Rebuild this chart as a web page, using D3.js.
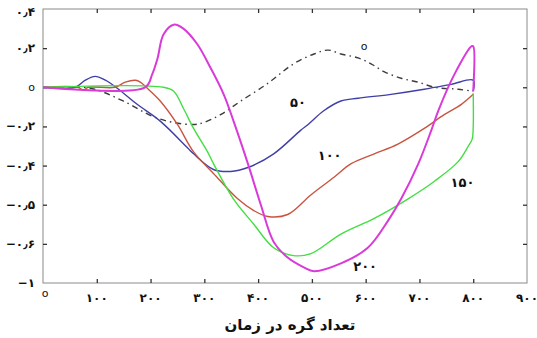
<!DOCTYPE html>
<html>
<head>
<meta charset="utf-8">
<script src="https://cdn.jsdelivr.net/npm/d3@7"></script>
<style>
  body { margin: 0; background: #fff; }
  svg text { font-family: "DejaVu Sans", sans-serif; }
</style>
</head>
<body>
<div id="chart"></div>
<script>
// values (x = time nodes, y = response)
const xTicks = [0, 100, 200, 300, 400, 500, 600, 700, 800, 900];
const xTickLabels = ['o', '۱۰۰', '۲۰۰', '۳۰۰', '۴۰۰', '۵۰۰', '۶۰۰', '۷۰۰', '۸۰۰', '۹۰۰'];
const yTicks = [0.4, 0.2, 0, -0.2, -0.4, -0.6, -0.8, -1];
const yTickLabels = ['۰٫۴', '۰٫۲', 'o', '−۰٫۲', '−۰٫۴', '−۰٫۵', '−۰٫۶', '−۱'];

const s0x = [0, 88, 149, 205, 243, 280, 299, 330, 368, 418, 466, 504, 530, 554, 586, 610, 634, 666, 698, 728, 772, 800];
const s0y = [0, -0.005, -0.07, -0.15, -0.18, -0.19, -0.18, -0.14, -0.07, 0.02, 0.12, 0.17, 0.19, 0.17, 0.15, 0.12, 0.08, 0.046, 0.026, 0, -0.01, -0.02];

const s50x = [0, 60, 78, 97, 116, 138, 175, 218, 269, 280, 317, 349, 381, 429, 479, 493, 522, 554, 586, 647, 709, 759, 800, 800];
const s50y = [0, 0, 0.035, 0.056, 0.036, -0.005, -0.087, -0.173, -0.31, -0.34, -0.42, -0.43, -0.41, -0.34, -0.22, -0.19, -0.12, -0.07, -0.056, -0.036, -0.01, 0.015, 0.036, -0.02];

const s100x = [0, 65, 75, 84, 134, 153, 172, 181, 194, 218, 250, 280, 317, 362, 392, 418, 455, 498, 541, 573, 616, 660, 709, 746, 778, 800];
const s100y = [0, 0, -0.015, 0, 0, 0.026, 0.036, 0.026, -0.005, -0.07, -0.19, -0.33, -0.44, -0.57, -0.63, -0.66, -0.65, -0.55, -0.46, -0.39, -0.34, -0.29, -0.21, -0.14, -0.087, -0.036];

const s150x = [0, 224, 243, 261, 280, 306, 317, 354, 392, 429, 466, 498, 554, 616, 679, 728, 772, 791, 798, 800, 800];
const s150y = [0, 0, -0.02, -0.107, -0.21, -0.33, -0.39, -0.57, -0.70, -0.82, -0.86, -0.85, -0.75, -0.67, -0.57, -0.48, -0.38, -0.30, -0.265, -0.2, -0.03];

const s200x = [0, 190, 203, 213, 224, 243, 261, 287, 312, 336, 354, 381, 405, 429, 455, 485, 504, 554, 604, 642, 666, 698, 722, 735, 765, 797, 800, 800];
const s200y = [0, 0, 0.066, 0.148, 0.27, 0.32, 0.30, 0.22, 0.097, -0.036, -0.17, -0.39, -0.60, -0.79, -0.87, -0.92, -0.94, -0.90, -0.82, -0.68, -0.57, -0.39, -0.22, -0.12, 0.066, 0.21, 0.21, -0.02];

const seriesNames = ['o', '۵۰', '۱۰۰', '۱۵۰', '۲۰۰'];
const seriesColors = ['#3c3c3c', '#3f3fa6', '#c8553f', '#44de44', '#d93ad9'];
const seriesX = [s0x, s50x, s100x, s150x, s200x];
const seriesY = [s0y, s50y, s100y, s150y, s200y];
// where each curve's label sits, in data units
const labelX = [597, 474, 533, 780, 599];
const labelY = [0.19, -0.1, -0.37, -0.51, -0.94];

const width = 537, height = 338;
const svg = d3.select('#chart').append('svg')
  .attr('width', width)
  .attr('height', height);

const x = d3.scaleLinear().domain([0, 900]).range([43, 527]);
const y = d3.scaleLinear().domain([-1, 0.4]).range([283, 9]);

// frame
svg.append('rect')
  .attr('x', x(0)).attr('y', y(0.4))
  .attr('width', x(900) - x(0)).attr('height', y(-1) - y(0.4))
  .attr('fill', 'none').attr('stroke', '#8a8a8a').attr('stroke-width', 1);

const inner = xTicks.slice(1, -1);
const innerY = yTicks.slice(1, -1);
const tickStyle = g => {
  g.select('.domain').remove();
  g.selectAll('line').attr('stroke', '#333').attr('stroke-width', 1.3);
  g.selectAll('text').remove();
};
svg.append('g').attr('transform', `translate(0,${y(-1)})`)
  .call(d3.axisBottom(x).tickValues(inner).tickSizeInner(-4).tickSizeOuter(0)).call(tickStyle);
svg.append('g').attr('transform', `translate(0,${y(0.4)})`)
  .call(d3.axisTop(x).tickValues(inner).tickSizeInner(-4).tickSizeOuter(0)).call(tickStyle);
svg.append('g').attr('transform', `translate(${x(0)},0)`)
  .call(d3.axisLeft(y).tickValues(innerY).tickSizeInner(-4).tickSizeOuter(0)).call(tickStyle);
svg.append('g').attr('transform', `translate(${x(900)},0)`)
  .call(d3.axisRight(y).tickValues(innerY).tickSizeInner(-4).tickSizeOuter(0)).call(tickStyle);

const isZero = t => t === 'o';

// tick labels
svg.append('g').selectAll('text')
  .data(xTicks)
  .join('text')
  .attr('x', d => x(d) + (d === 0 ? 2 : 0))
  .attr('y', (d, i) => i === 0 ? 297 : 302)
  .attr('text-anchor', 'middle')
  .attr('font-size', (d, i) => isZero(xTickLabels[i]) ? 11 : 12)
  .attr('font-weight', (d, i) => isZero(xTickLabels[i]) ? 'normal' : 'bold')
  .attr('fill', '#111')
  .text((d, i) => xTickLabels[i]);

svg.append('g').selectAll('text')
  .data(yTicks)
  .join('text')
  .attr('x', 35)
  .attr('y', (d, i) => y(d) + (i === 0 ? 7 : 4))
  .attr('text-anchor', 'end')
  .attr('font-size', (d, i) => isZero(yTickLabels[i]) ? 11 : 12)
  .attr('font-weight', (d, i) => isZero(yTickLabels[i]) ? 'normal' : 'bold')
  .attr('fill', '#111')
  .text((d, i) => yTickLabels[i]);

// curves
const line = d3.line()
  .x(d => x(d[0]))
  .y(d => y(d[1]))
  .curve(d3.curveCatmullRom.alpha(0.5));

seriesNames.forEach((name, i) => {
  const pts = seriesX[i].map((v, j) => [v, seriesY[i][j]]);
  svg.append('path')
    .datum(pts)
    .attr('fill', 'none')
    .attr('stroke', seriesColors[i])
    .attr('stroke-width', i === 4 ? 2 : 1.4)
    .attr('stroke-dasharray', i === 0 ? '6,4,1.5,4' : null)
    .attr('d', line);

  svg.append('text')
    .attr('x', x(labelX[i]))
    .attr('y', y(labelY[i]))
    .attr('text-anchor', 'middle')
    .attr('font-size', isZero(name) ? 11 : 13)
    .attr('font-weight', isZero(name) ? 'normal' : 'bold')
    .attr('fill', '#111')
    .text(name);
});

// axis title
svg.append('text')
  .attr('x', 290)
  .attr('y', 330)
  .attr('text-anchor', 'middle')
  .attr('font-size', 15)
  .attr('font-weight', 'bold')
  .attr('fill', '#111')
  .text('تعداد گره در زمان');
</script>
</body>
</html>
